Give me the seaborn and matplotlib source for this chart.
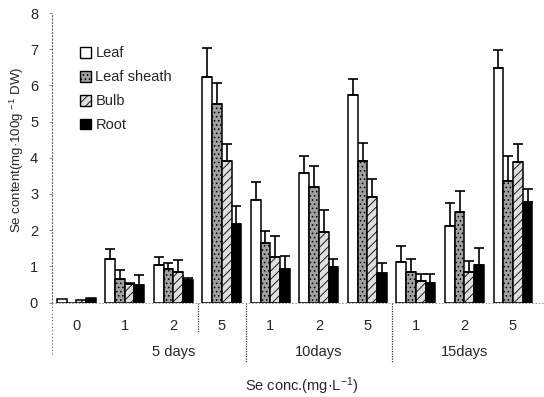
import matplotlib
matplotlib.use("Agg")
import matplotlib.pyplot as plt
import matplotlib.transforms as mtransforms
from matplotlib.patches import Patch
import seaborn as sns
import pandas as pd
import numpy as np

# ---- data ----
group_keys = ["c0", "d5_1", "d5_2", "d5_5", "d10_1", "d10_2", "d10_5", "d15_1", "d15_2", "d15_5"]
conc_labels = ["0", "1", "2", "5", "1", "2", "5", "1", "2", "5"]
day_labels = ["5 days", "10days", "15days"]
day_centers = [2.0, 5.0, 8.0]
tissues = ["Leaf", "Leaf sheath", "Bulb", "Root"]

leaf = [0.09, 1.19, 1.03, 6.23, 2.84, 3.58, 5.74, 1.11, 2.11, 6.48]
leaf_err = [0.0, 0.29, 0.23, 0.81, 0.49, 0.47, 0.43, 0.46, 0.63, 0.51]
sheath = [0.0, 0.66, 0.92, 5.48, 1.65, 3.19, 3.91, 0.85, 2.49, 3.35]
sheath_err = [0.0, 0.24, 0.18, 0.59, 0.33, 0.58, 0.50, 0.35, 0.58, 0.69]
bulb = [0.07, 0.50, 0.85, 3.91, 1.25, 1.95, 2.92, 0.59, 0.85, 3.89]
bulb_err = [0.0, 0.05, 0.32, 0.46, 0.59, 0.60, 0.50, 0.19, 0.30, 0.48]
root = [0.13, 0.48, 0.62, 2.18, 0.93, 0.98, 0.82, 0.55, 1.04, 2.78]
root_err = [0.0, 0.27, 0.07, 0.49, 0.35, 0.23, 0.28, 0.23, 0.48, 0.35]

values = [leaf, sheath, bulb, root]
errors = [leaf_err, sheath_err, bulb_err, root_err]

df = pd.DataFrame({
    "group": np.tile(group_keys, len(tissues)),
    "tissue": np.repeat(tissues, len(group_keys)),
    "value": np.concatenate(values),
})

# ---- style ----
sns.set_style("white")
plt.rcParams["font.family"] = ["Liberation Sans", "DejaVu Sans"]
plt.rcParams["mathtext.fontset"] = "custom"
plt.rcParams["mathtext.rm"] = "Liberation Sans"
plt.rcParams["mathtext.it"] = "Liberation Sans"
plt.rcParams["hatch.linewidth"] = 0.6

faces = {"Leaf": "white", "Leaf sheath": "#a0a0a0", "Bulb": "#dedede", "Root": "black"}
hatches = {"Leaf": "", "Leaf sheath": "....", "Bulb": "////", "Root": ""}

fig = plt.figure(figsize=(5.44, 3.97), dpi=100)
ax = fig.add_axes([0.0956, 0.238, 0.9044, 0.729])

sns.barplot(data=df, x="group", y="value", hue="tissue", order=group_keys,
            hue_order=tissues, palette=faces, errorbar=None, width=0.8,
            edgecolor="black", linewidth=1.1, legend=False, ax=ax)

for cont, t, errs in zip(ax.containers, tissues, errors):
    xs, ys, es = [], [], []
    for p, e in zip(cont.patches, errs):
        p.set_hatch(hatches[t])
        if e > 0:
            xs.append(p.get_x() + p.get_width() / 2)
            ys.append(p.get_height())
            es.append(e)
    es = np.array(es)
    ax.errorbar(xs, ys, yerr=[np.zeros_like(es), es], fmt="none", ecolor="black",
                elinewidth=1.2, capsize=3.5, capthick=1.2, zorder=3)

ax.set_ylim(0, 8)
ax.set_xlim(-0.5, 9.64)
ax.set_yticks(range(0, 9))
ax.set_xticks(range(len(group_keys)))
ax.set_xticklabels(conc_labels)
ax.tick_params(axis="x", length=0, pad=12, labelsize=10.5)
ax.tick_params(axis="y", length=2, width=0.6, color="#777777", pad=8, labelsize=10.5, left=True)

for s in ["top", "right"]:
    ax.spines[s].set_visible(False)
ax.spines["left"].set_linestyle((0, (1, 2)))
ax.spines["left"].set_color("#666666")
ax.spines["left"].set_linewidth(0.8)
ax.spines["bottom"].set_linestyle((0, (1, 3)))
ax.spines["bottom"].set_color("#888888")
ax.spines["bottom"].set_linewidth(0.6)

trans = mtransforms.blended_transform_factory(ax.transData, ax.transAxes)
# extension of left axis and group dividers
ax.plot([-0.5, -0.5], [0, -0.181], transform=trans, clip_on=False,
        color="#666666", lw=0.8, ls=(0, (1, 2)))
ax.plot([2.5, 2.5], [0, -0.102], transform=trans, clip_on=False,
        color="#333333", lw=0.9, ls=(0, (1, 1)))
for xd in [3.5, 6.5]:
    ax.plot([xd, xd], [0, -0.209], transform=trans, clip_on=False,
            color="#333333", lw=0.9, ls=(0, (1, 1)))

for lab, xc in zip(day_labels, day_centers):
    ax.text(xc, -0.17, lab, transform=trans, ha="center", va="center", fontsize=10.5)

ax.set_xlabel("")
ax.set_ylabel("Se content(mg·100g $^{-1}$ DW)", fontsize=9.5)
ax.yaxis.set_label_coords(-0.052, 0.527)
fig.text(302 / 544, 0.026, "Se conc.(mg·L$^{-1}$)", ha="center", va="center", fontsize=10.5)

handles = [Patch(facecolor=faces[t], edgecolor="black", hatch=hatches[t], linewidth=1.0, label=t)
           for t in tissues]
ax.legend(handles=handles, loc="upper left", bbox_to_anchor=(0.045, 0.905), frameon=False,
          fontsize=10.5, handlelength=0.75, handleheight=0.75, handletextpad=0.3,
          labelspacing=0.68, borderaxespad=0.0)

fig.savefig("out.png", dpi=100)
